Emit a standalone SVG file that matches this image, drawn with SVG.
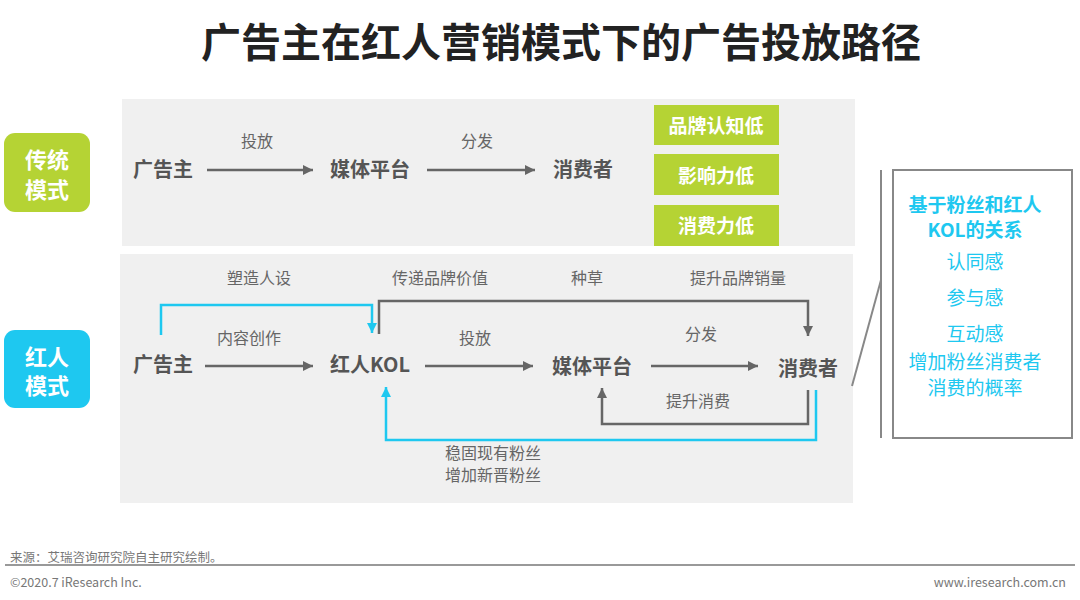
<svg xmlns="http://www.w3.org/2000/svg" width="1080" height="600" viewBox="0 0 1080 600">
<style>
text{font-family:"Noto Sans CJK SC","Noto Sans",sans-serif;dominant-baseline:central;text-anchor:middle}
.title{font-size:40px;font-weight:bold;fill:#222}
.node{font-size:20px;font-weight:bold;fill:#555}
.lbl{font-size:16px;fill:#666}
.mode{font-size:22px;font-weight:bold;fill:#fff}
.tag{font-size:19px;font-weight:bold;fill:#fff}
.rel{font-size:19px;fill:#1EC8F0}
.relb{font-size:19px;font-weight:bold;fill:#1EC8F0}
.foot{font-size:12.5px;fill:#777;text-anchor:start}
.panel{fill:#F0F0F0}
.g{fill:none;stroke:#666;stroke-width:2.5}
.b{fill:none;stroke:#1EC8F0;stroke-width:2.5}
.gt{fill:#B5D334}
</style>
<defs>
<marker id="ag" viewBox="0 0 10 10" refX="10" refY="5" markerWidth="4" markerHeight="4" orient="auto" markerUnits="strokeWidth"><path d="M0,0L10,5L0,10z" fill="#666"/></marker>
<marker id="ab" viewBox="0 0 10 10" refX="10" refY="5" markerWidth="4" markerHeight="4" orient="auto" markerUnits="strokeWidth"><path d="M0,0L10,5L0,10z" fill="#1EC8F0"/></marker>
</defs>
<text class="title" x="561" y="40">广告主在红人营销模式下的广告投放路径</text>
<rect class="panel" x="122" y="99" width="733" height="147"/>
<rect class="panel" x="120" y="254" width="733" height="249"/>
<g id="mode-traditional">
<rect x="4" y="133" width="86" height="79" rx="11" fill="#B5D334"/>
<text class="mode" x="47" y="158">传统</text>
<text class="mode" x="47" y="188">模式</text>
</g>
<g id="mode-kol">
<rect x="4" y="330" width="86" height="78" rx="11" fill="#1EC8F0"/>
<text class="mode" x="47" y="355">红人</text>
<text class="mode" x="47" y="384">模式</text>
</g>
<g id="t-advertiser"><text class="node" x="163" y="168">广告主</text></g>
<g id="t-media"><text class="node" x="370" y="168">媒体平台</text></g>
<g id="t-consumer"><text class="node" x="583" y="168">消费者</text></g>
<g id="tag1"><rect class="gt" x="654" y="105" width="125" height="40"/><text class="tag" x="716" y="124">品牌认知低</text></g>
<g id="tag2"><rect class="gt" x="654" y="154" width="125" height="41"/><text class="tag" x="716" y="174">影响力低</text></g>
<g id="tag3"><rect class="gt" x="654" y="205" width="125" height="41"/><text class="tag" x="716" y="224">消费力低</text></g>
<g id="k-advertiser"><text class="node" x="163" y="363">广告主</text></g>
<g id="k-kol"><text class="node" x="370" y="363">红人KOL</text></g>
<g id="k-media"><text class="node" x="592" y="365">媒体平台</text></g>
<g id="k-consumer"><text class="node" x="808" y="367">消费者</text></g>
<g id="relation-box">
<line x1="852" y1="386" x2="881" y2="280" stroke="#888" stroke-width="2"/>
<line x1="881" y1="170" x2="881" y2="438" stroke="#888" stroke-width="2"/>
<rect x="893" y="170" width="179" height="268" fill="#fff" stroke="#888" stroke-width="2"/>
<text class="relb" x="975" y="203">基于粉丝和红人</text>
<text class="relb" x="975" y="228">KOL的关系</text>
<text class="rel" x="975" y="260">认同感</text>
<text class="rel" x="975" y="296">参与感</text>
<text class="rel" x="975" y="332">互动感</text>
<text class="rel" x="975" y="360">增加粉丝消费者</text>
<text class="rel" x="975" y="386">消费的概率</text>
</g>
<g id="connectors">
<line class="g" x1="207" y1="170" x2="313" y2="170" marker-end="url(#ag)"/>
<text class="lbl" x="257" y="140">投放</text>
<line class="g" x1="427" y1="170" x2="535" y2="170" marker-end="url(#ag)"/>
<text class="lbl" x="477" y="140">分发</text>
<line class="g" x1="205" y1="366" x2="313" y2="366" marker-end="url(#ag)"/>
<text class="lbl" x="249" y="337">内容创作</text>
<line class="g" x1="425" y1="366" x2="533" y2="366" marker-end="url(#ag)"/>
<text class="lbl" x="475" y="337">投放</text>
<line class="g" x1="651" y1="366" x2="758" y2="366" marker-end="url(#ag)"/>
<text class="lbl" x="701" y="333">分发</text>
<polyline class="b" points="161,335 161,305 372,305 372,333" marker-end="url(#ab)"/>
<text class="lbl" x="259" y="277">塑造人设</text>
<polyline class="g" points="379,334 379,301 808,301 808,336" marker-end="url(#ag)"/>
<text class="lbl" x="440" y="277">传递品牌价值</text>
<text class="lbl" x="587" y="277">种草</text>
<text class="lbl" x="738" y="277">提升品牌销量</text>
<polyline class="g" points="808,390 808,424 602,424 602,388" marker-end="url(#ag)"/>
<text class="lbl" x="698" y="400">提升消费</text>
<polyline class="b" points="816,390 816,440 386,440 386,387" marker-end="url(#ab)"/>
<text class="lbl" x="493" y="452">稳固现有粉丝</text>
<text class="lbl" x="493" y="474">增加新晋粉丝</text>
</g>
<text class="foot" x="10" y="556">来源：艾瑞咨询研究院自主研究绘制。</text>
<line x1="5" y1="565" x2="1075" y2="565" stroke="#999" stroke-width="2"/>
<text class="foot" x="10" y="581">©2020.7 iResearch Inc.</text>
<text class="foot" x="1066" y="581" style="text-anchor:end">www.iresearch.com.cn</text>
</svg>
